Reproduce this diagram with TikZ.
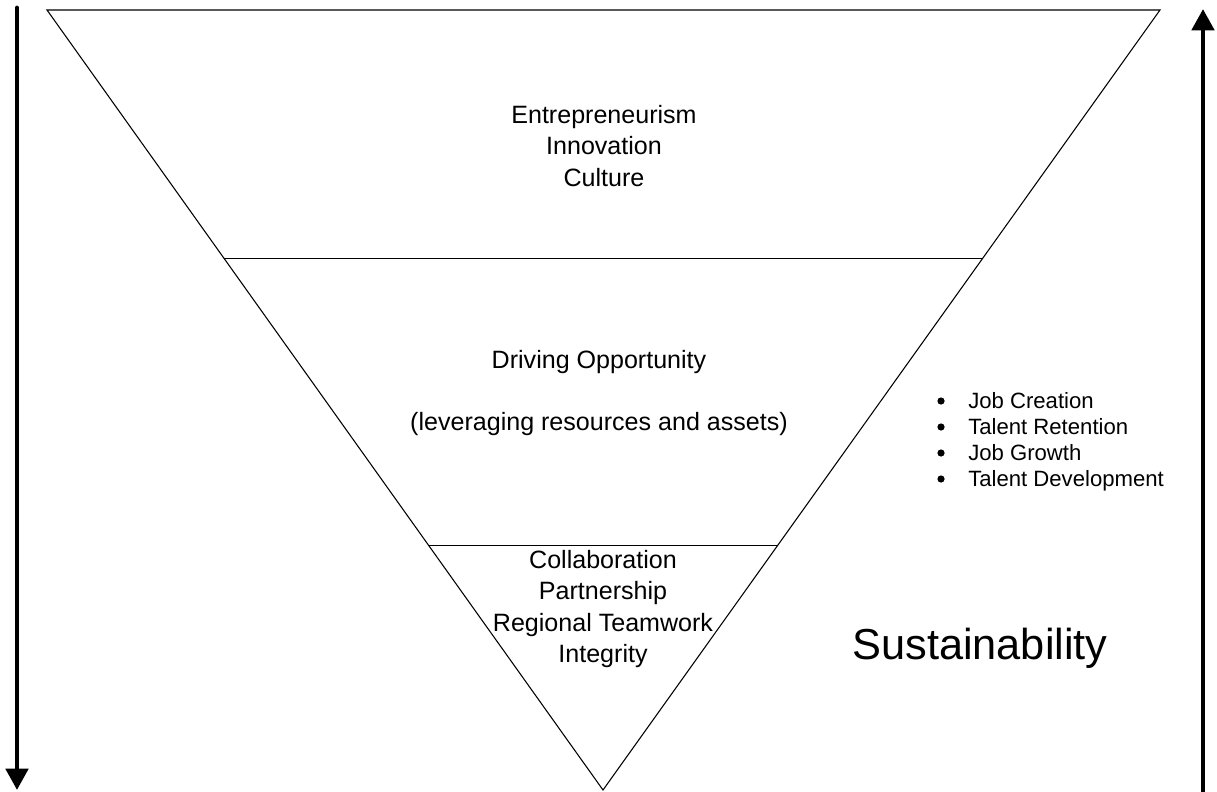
\documentclass[tikz,border=0pt]{standalone}
\usepackage{fontspec}
\setmainfont{Liberation Sans}
\usetikzlibrary{arrows.meta,calc}
\begin{document}
\begin{tikzpicture}[x=0.75pt,y=-0.75pt,
  thinline/.style={line width=0.8pt, black},
  bigarrow/.style={line width=3.6pt, line cap=round, -{Triangle[width=16.5pt,length=16pt]}},
  maintext/.style={font=\fontsize{18.8}{23.3}\selectfont, align=center, inner sep=0pt},
  bullettext/.style={font=\fontsize{16.6}{19.5}\selectfont, anchor=base west, inner sep=0pt},
  bulletdot/.style={fill=black, draw=none},
  bigtext/.style={font=\fontsize{32.5}{38}\selectfont, inner sep=0pt}]
\useasboundingbox (0,0) rectangle (1217,792);
\coordinate (TL) at (47,10);
\coordinate (TR) at (1160,10);
\coordinate (B) at (603,790);
\draw[thinline, line join=miter] (TL) -- (TR) -- (B) -- cycle;
\coordinate (L1) at ($(TL)!0.318!(B)$);
\coordinate (R1) at ($(TR)!0.318!(B)$);
\coordinate (L2) at ($(TL)!0.687!(B)$);
\coordinate (R2) at ($(TR)!0.687!(B)$);
\draw[thinline] (L1) -- (R1);
\draw[thinline] (L2) -- (R2);
% side arrows
\coordinate (la1) at (17,8);
\coordinate (la2) at (17,790);
\draw[bigarrow] (la1) -- (la2);
\coordinate (ra1) at (1203,795);
\coordinate (ra2) at (1203,9);
\draw[bigarrow] (ra1) -- (ra2);
% texts
\node[maintext] (top) at (604,146) {Entrepreneurism\\Innovation\\Culture};
\node[maintext] (mid) at (599,393) {Driving Opportunity\\[23.3pt](leveraging resources and assets)};
\node[maintext] (bot) at (603,609) {Collaboration\\Partnership\\Regional Teamwork\\Integrity};
% bullet list
\foreach \i/\t in {0/Job Creation,1/Talent Retention,2/Job Growth,3/Talent Development}{
  \fill[bulletdot] (941,{401+26*\i}) circle (3.6);
  \node[bullettext] (item\i) at (968,{408+26*\i}) {\t};
}
\node[bigtext] (sust) at (980,648) {Sustainability};
\end{tikzpicture}
\end{document}
